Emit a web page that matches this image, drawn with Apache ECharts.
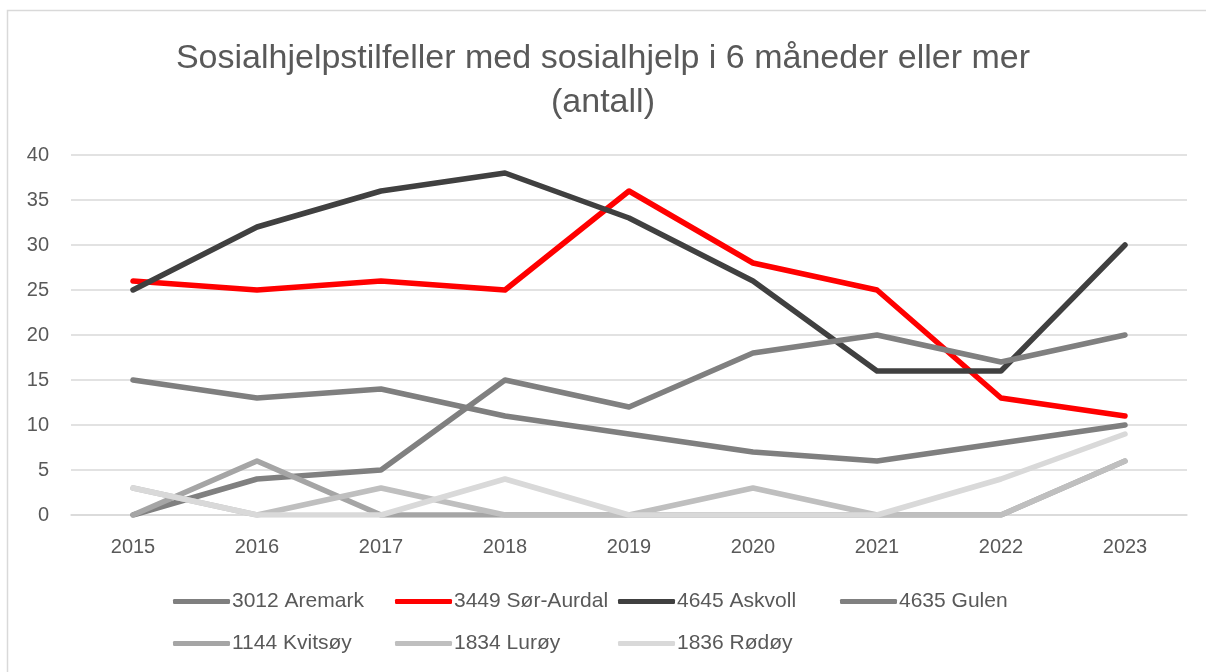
<!DOCTYPE html>
<html>
<head>
<meta charset="utf-8">
<style>
  html, body { margin: 0; padding: 0; background: #fff; }
  #chart { width: 1206px; height: 672px; }
</style>
<script src="https://cdn.jsdelivr.net/npm/echarts@6/dist/echarts.min.js"></script>
</head>
<body>
<div id="chart"></div>
<script>
var years = ['2015', '2016', '2017', '2018', '2019', '2020', '2021', '2022', '2023'];
var yTicks = [0, 5, 10, 15, 20, 25, 30, 35, 40];

var aremark   = [15, 13, 14, 11, 9, 7, 6, 8, 10];
var sorAurdal = [26, 25, 26, 25, 36, 28, 25, 13, 11];
var askvoll   = [25, 32, 36, 38, 33, 26, 16, 16, 30];
var gulen     = [0, 4, 5, 15, 12, 18, 20, 17, 20];
var kvitsoy   = [0, 6, 0, 0, 0, 0, 0, 0, 6];
var luroy     = [3, 0, 3, 0, 0, 3, 0, 0, 6];
var rodoy     = [3, 0, 0, 4, 0, 0, 0, 4, 9];

var names = ['3012 Aremark', '3449 Sør-Aurdal', '4645 Askvoll', '4635 Gulen', '1144 Kvitsøy', '1834 Lurøy', '1836 Rødøy'];
var values = [aremark, sorAurdal, askvoll, gulen, kvitsoy, luroy, rodoy];
var colors = ['#7f7f7f', '#ff0000', '#404040', '#808080', '#a5a5a5', '#bfbfbf', '#d9d9d9'];

var font = 'Liberation Sans';
var textColor = '#595959';

// legend laid out like the Excel one: fixed columns, two rows
var legendPos = [
  [173, 591], [395, 591], [618, 591], [840, 591],
  [173, 633], [395, 633], [618, 633]
];
var legends = names.map(function(n, i) {
  return {
    data: [n],
    left: legendPos[i][0],
    top: legendPos[i][1],
    padding: 0,
    itemWidth: 57,
    itemHeight: 5,
    itemGap: 0,
    icon: 'roundRect',
    textStyle: { color: textColor, fontSize: 21, fontFamily: font, padding: [0, 0, 0, -3] }
  };
});

var chart = echarts.init(document.getElementById('chart'), null, { renderer: 'canvas' });
chart.setOption({
  animation: false,
  color: colors,
  title: {
    text: 'Sosialhjelpstilfeller med sosialhjelp i 6 måneder eller mer\n(antall)',
    left: 'center',
    top: 32,
    textStyle: { color: textColor, fontSize: 34, fontWeight: 'normal', fontFamily: font, lineHeight: 44, align: 'center' }
  },
  graphic: [{
    type: 'rect',
    shape: { x: 7.5, y: 10.5, width: 1220, height: 700 },
    style: { fill: 'none', stroke: '#d9d9d9', lineWidth: 1.5 },
    silent: true
  }],
  legend: legends,
  grid: { left: 71, right: 19, top: 155, bottom: 157 },
  xAxis: {
    type: 'category',
    data: years,
    boundaryGap: true,
    axisLine: { lineStyle: { color: '#d9d9d9', width: 1.5 } },
    axisTick: { show: false },
    axisLabel: { color: textColor, fontSize: 20, fontFamily: font, margin: 22 }
  },
  yAxis: {
    type: 'value',
    min: yTicks[0],
    max: yTicks[yTicks.length - 1],
    interval: 5,
    axisLine: { show: false },
    axisTick: { show: false },
    splitLine: { lineStyle: { color: '#d9d9d9', width: 1.5 } },
    axisLabel: { color: textColor, fontSize: 20, fontFamily: font, margin: 22 }
  },
  series: names.map(function(n, i) {
    return {
      name: n,
      type: 'line',
      data: values[i],
      symbol: 'none',
      lineStyle: { width: 5.5, color: colors[i], cap: 'round', join: 'round' },
      itemStyle: { color: colors[i] }
    };
  })
});
window.addEventListener('resize', function() { chart.resize(); });
</script>
</body>
</html>
